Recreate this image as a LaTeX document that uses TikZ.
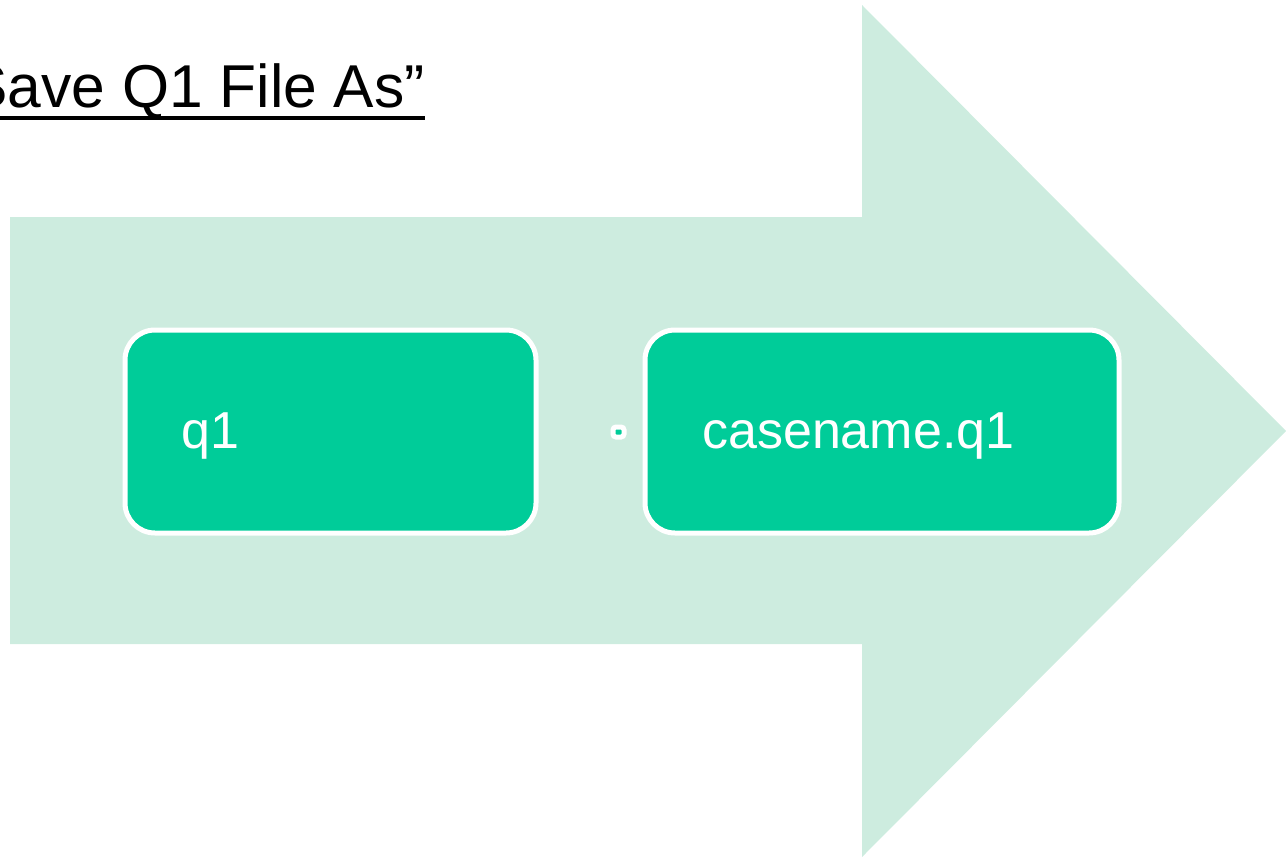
\documentclass[tikz,border=0pt]{standalone}
\usepackage{fontspec}
\setmainfont{Liberation Sans}
\definecolor{arrowgreen}{RGB}{205,236,223}
\definecolor{boxgreen}{RGB}{0,204,153}
\begin{document}
\begin{tikzpicture}[x=1pt,y=-1pt,
  stepbox/.style={draw=white, line width=5pt, fill=boxgreen, rounded corners=30pt},
  boxtext/.style={text=white, font=\fontsize{52}{56}\selectfont, anchor=base west, inner sep=0pt}]
\useasboundingbox (0,0) rectangle (1286,857);
\clip (0,0) rectangle (1286,857);
% big arrow
\fill[arrowgreen] (10,217) -- (862,217) -- (862,5) -- (1286,431) -- (862,857) -- (862,644) -- (10,644) -- cycle;
% boxes
\draw[stepbox] (125,330) rectangle (536,533);
\draw[stepbox] (645,330) rectangle (1119,533);
\node[boxtext] (t1) at (181,448) {q1};
\node[boxtext] (t2) at (702,448) {casename.q1};
% small dot
\draw[draw=white, line width=5pt, fill=boxgreen, rounded corners=3pt] (613,427) rectangle (624,437);
% title
\node[anchor=base east, inner sep=0pt, font=\fontsize{60.5}{64}\selectfont] (title) at (425,107) {“Save Q1 File As”};
\draw[line width=3.5pt] ([yshift=-11pt]title.base west) -- ([yshift=-11pt]title.base east);
\end{tikzpicture}
\end{document}
